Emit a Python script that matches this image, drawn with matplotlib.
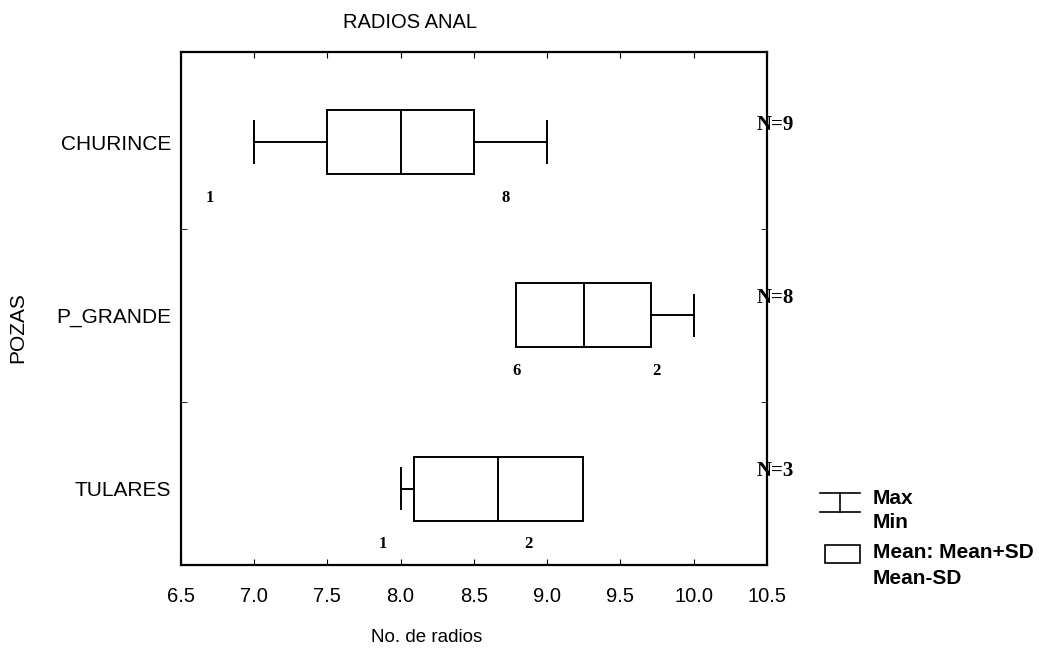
import numpy as np
import matplotlib.pyplot as plt
from matplotlib.patches import Rectangle

# data
pozas = ['CHURINCE', 'P_GRANDE', 'TULARES']
means = [8.0, 9.25, 8.667]
sds = [0.5, 0.463, 0.577]
mins = [7.0, 9.0, 8.0]
maxs = [9.0, 10.0, 9.0]
n_labels = ['N=9', 'N=8', 'N=3']
# count labels under each box (x position, text)
counts = [[(6.7, '1'), (8.72, '8')],
          [(8.79, '6'), (9.75, '2')],
          [(7.88, '1'), (8.87, '2')]]

sans = 'Liberation Sans'
serif = 'Liberation Serif'

fig = plt.figure(figsize=(10.39, 6.5), dpi=100)
ax = fig.add_axes([0.174, 0.131, 0.564, 0.789])

box_h = 0.37
cap_h = 0.24
lw = 1.4
for i in range(len(pozas)):
    lo = means[i] - sds[i]
    hi = means[i] + sds[i]
    ax.add_patch(Rectangle((lo, i - box_h / 2), hi - lo, box_h,
                           fill=False, edgecolor='black', lw=lw))
    ax.plot([means[i], means[i]], [i - box_h / 2, i + box_h / 2], color='black', lw=lw)
    if mins[i] < lo:
        ax.plot([mins[i], lo], [i, i], color='black', lw=lw)
        ax.plot([mins[i], mins[i]], [i - cap_h / 2, i + cap_h / 2], color='black', lw=lw)
    if maxs[i] > hi:
        ax.plot([hi, maxs[i]], [i, i], color='black', lw=lw)
        ax.plot([maxs[i], maxs[i]], [i - cap_h / 2, i + cap_h / 2], color='black', lw=lw)
    for xv, t in counts[i]:
        ax.text(xv, i + 0.32, t, ha='center', va='center', fontsize=12,
                family=serif, fontweight='bold')
    ax.text(10.56, i - 0.1, n_labels[i], ha='center', va='center', fontsize=15,
            family=serif, fontweight='bold', clip_on=False)

ax.set_xlim(6.5, 10.5)
ax.set_ylim(2.44, -0.52)
ax.set_xticks(np.arange(6.5, 10.51, 0.5))
ax.set_xticklabels(['%.1f' % v for v in np.arange(6.5, 10.51, 0.5)],
                   family=sans, fontsize=14.5)
ax.set_yticks(range(len(pozas)))
ax.set_yticklabels(pozas, family=sans, fontsize=15)
ax.set_yticks([0.5, 1.5], minor=True)
ax.tick_params(axis='y', which='major', length=0, pad=7)
ax.tick_params(axis='y', which='minor', direction='in', length=4, left=True, right=True)
ax.tick_params(axis='x', direction='in', length=4, top=True, pad=16)
for s in ax.spines.values():
    s.set_linewidth(1.6)

ax.set_xlabel('No. de radios', family=sans, fontsize=13.5)
ax.xaxis.set_label_coords(0.42, -0.125)
ax.set_ylabel('POZAS', family=sans, fontsize=15)
ax.yaxis.set_label_coords(-0.262, 0.462)
fig.text(410 / 1039, 1 - 22 / 650, 'RADIOS ANAL', ha='center', va='center',
         family=sans, fontsize=14.5)

# legend drawn by hand
lx0, lx1 = 820 / 1039, 860 / 1039
ly_top, ly_bot = 1 - 493 / 650, 1 - 512 / 650
fig.add_artist(plt.Line2D([lx0, lx1], [ly_top, ly_top], color='black', lw=1.2))
fig.add_artist(plt.Line2D([lx0, lx1], [ly_bot, ly_bot], color='black', lw=1.2))
fig.add_artist(plt.Line2D([(lx0 + lx1) / 2] * 2, [ly_top, ly_bot], color='black', lw=1.2))
fig.text(873 / 1039, 1 - 498 / 650, 'Max', family=sans, fontsize=15,
         fontweight='bold', va='center')
fig.text(873 / 1039, 1 - 523 / 650, 'Min', family=sans, fontsize=15,
         fontweight='bold', va='center')
fig.add_artist(Rectangle((825 / 1039, 1 - 563 / 650), 35 / 1039, 18 / 650,
                         fill=False, edgecolor='black', lw=1.2,
                         transform=fig.transFigure))
fig.text(873 / 1039, 1 - 552 / 650, 'Mean: Mean+SD', family=sans, fontsize=15,
         fontweight='bold', va='center')
fig.text(873 / 1039, 1 - 578 / 650, 'Mean-SD', family=sans, fontsize=15,
         fontweight='bold', va='center')

fig.savefig('out.png', dpi=100)
